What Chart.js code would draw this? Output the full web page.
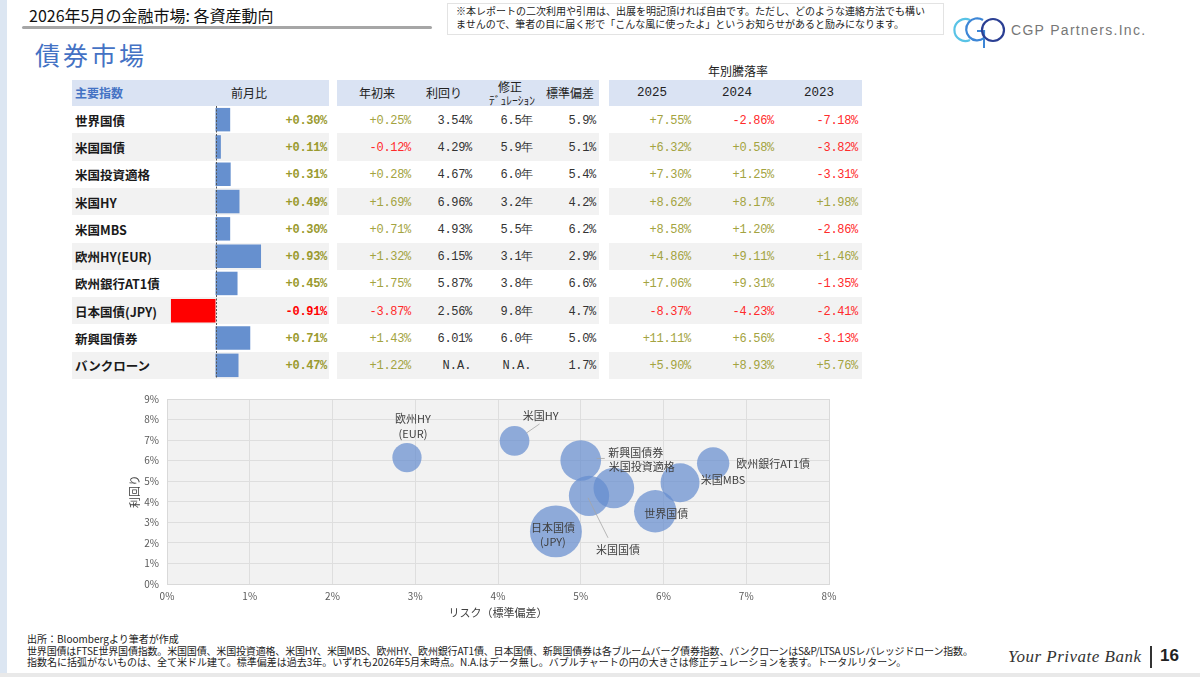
<!DOCTYPE html>
<html lang="ja">
<head>
<meta charset="utf-8">
<script src="https://cdn.jsdelivr.net/npm/chart.js@4.4.1/dist/chart.umd.min.js"></script>
<style>
html,body{margin:0;padding:0;background:#fff;}
body{width:1200px;height:677px;position:relative;overflow:hidden;font-family:'Noto Sans CJK JP','Noto Sans',sans-serif;color:#222;}
.abs{position:absolute;white-space:nowrap;}
.band{position:absolute;}
canvas{position:absolute;}
</style>
</head>
<body>
<script>
// ---------------- DATA ----------------
const names   = ['世界国債','米国国債','米国投資適格','米国HY','米国MBS','欧州HY(EUR)','欧州銀行AT1債','日本国債(JPY)','新興国債券','バンクローン'];
const bubbleLabels = ['世界国債','米国国債','米国投資適格','米国HY','米国MBS','欧州HY\n(EUR)','欧州銀行AT1債','日本国債\n(JPY)','新興国債券','バンクローン'];
const momChange = [0.30, 0.11, 0.31, 0.49, 0.30, 0.93, 0.45, -0.91, 0.71, 0.47];   // 前月比
const ytdReturn = [0.25, -0.12, 0.28, 1.69, 0.71, 1.32, 1.75, -3.87, 1.43, 1.22];  // 年初来
const yields    = [3.54, 4.29, 4.67, 6.96, 4.93, 6.15, 5.87, 2.56, 6.01, null];    // 利回り
const durations = [6.5, 5.9, 6.0, 3.2, 5.5, 3.1, 3.8, 9.8, 6.0, null];             // 修正デュレーション
const stdDevs   = [5.9, 5.1, 5.4, 4.2, 6.2, 2.9, 6.6, 4.7, 5.0, 1.7];              // 標準偏差
const ret2025   = [7.55, 6.32, 7.30, 8.62, 8.58, 4.86, 17.06, -8.37, 11.11, 5.90];
const ret2024   = [-2.86, 0.58, 1.25, 8.17, 1.20, 9.11, 9.31, -4.23, 6.56, 8.93];
const ret2023   = [-7.18, -3.82, -3.31, 1.98, -2.86, 1.46, -1.35, -2.41, -3.13, 5.76];
const xTicksPct = [0,1,2,3,4,5,6,7,8];
const yTicksPct = [0,1,2,3,4,5,6,7,8,9];

// ---------------- helpers ----------------
function txt(s, o){
  const d=document.createElement('div'); d.className='abs'; d.textContent=s;
  const lh=o.lh||16;
  d.style.top=(o.y-lh/2)+'px'; d.style.height=lh+'px';
  if(o.font) d.style.font=o.font;
  d.style.lineHeight=lh+'px';
  if(o.align==='right'){ d.style.right=(1200-o.x)+'px'; }
  else if(o.align==='center'){ d.style.left=(o.x-200)+'px'; d.style.width='400px'; d.style.textAlign='center'; }
  else d.style.left=o.x+'px';
  if(o.color) d.style.color=o.color;
  if(o.ls) d.style.letterSpacing=o.ls;
  document.body.appendChild(d); return d;
}
function rect(x,y,w,h,bg,extra){
  const d=document.createElement('div'); d.className='band';
  Object.assign(d.style,{left:x+'px',top:y+'px',width:w+'px',height:h+'px',background:bg},extra||{});
  document.body.appendChild(d); return d;
}
const CJK="'Noto Sans CJK JP','Noto Sans',sans-serif";
const MONO="'Liberation Mono','DejaVu Sans Mono',monospace";
const POS='#9a9a2e', POS2='#a3a340', NEG='#ff0000', NEG2='#ff2b2b';
const fmtSigned = v => (v>=0?'+':'-')+Math.abs(v).toFixed(2)+'%';

// ---------------- page chrome ----------------
rect(0,0,7,673,'#dce6f2');
rect(0,673,1200,4,'#e9e9e9');
txt('2026年5月の金融市場: 各資産動向',{x:29,y:15,lh:20,font:"16px "+CJK,color:'#111'});
rect(22,26,410,3,'#a6a6a6',{borderRadius:'2px'});
rect(447,3,497,32,'#fff',{border:'1px solid #e3e3e3',boxSizing:'border-box'});
txt('※本レポートの二次利用や引用は、出展を明記頂ければ自由です。ただし、どのような連絡方法でも構い',{x:456,y:11,lh:12,font:"10px "+CJK,color:'#222'});
txt('ませんので、筆者の目に届く形で「こんな風に使ったよ」というお知らせがあると励みになります。',{x:456,y:24,lh:12,font:"10px "+CJK,color:'#222'});
// logo
document.body.insertAdjacentHTML('beforeend',
 '<svg style="position:absolute;left:950px;top:12px" width="60" height="38" viewBox="0 0 60 38">'+
 '<path d="M20 8 A11 11 0 1 0 20 28" fill="none" stroke="#59c3e6" stroke-width="2.2"/>'+
 '<path d="M33 8 A11 11 0 1 0 34 26 L34 19 L27 19" fill="none" stroke="#3d86d6" stroke-width="2.2"/>'+
 '<circle cx="43" cy="18" r="11" fill="none" stroke="#2b3f93" stroke-width="2.2"/>'+
 '<line x1="34" y1="26" x2="34" y2="36" stroke="#3d86d6" stroke-width="2"/>'+
 '</svg>');
txt('CGP Partners.Inc.',{x:1011,y:30,lh:18,font:"14px 'Liberation Sans',sans-serif",color:'#777',ls:'1.3px'});
txt('債券市場',{x:35,y:54,lh:30,font:"25px "+CJK,color:'#4472c4',ls:'3px'});

// ---------------- table ----------------
const ROW_TOP=106, ROW_H=27.3, HEAD_TOP=80, HEAD_H=26;
const sections=[[72,257],[337,262],[609,253]];
sections.forEach(s=>rect(s[0],HEAD_TOP,s[1],HEAD_H,'#dae3f3'));
for(let i=0;i<names.length;i++){
  if(i%2===1) sections.forEach(s=>rect(s[0],ROW_TOP+i*ROW_H,s[1],ROW_H,'#f2f2f2'));
}
const hy=HEAD_TOP+HEAD_H/2;
txt('年別騰落率',{x:738,y:71,lh:16,font:"12px "+CJK,align:'center',color:'#222'});
txt('主要指数',{x:75,y:hy,lh:16,font:"bold 12px "+CJK,color:'#4472c4'});
txt('前月比',{x:249,y:hy,lh:16,font:"12px "+CJK,align:'center'});
txt('年初来',{x:377,y:hy,lh:16,font:"12px "+CJK,align:'center'});
txt('利回り',{x:444,y:hy,lh:16,font:"12px "+CJK,align:'center'});
txt('修正',{x:510,y:hy-6,lh:14,font:"12px "+CJK,align:'center'});
txt('ﾃﾞｭﾚｰｼｮﾝ',{x:512,y:hy+7,lh:12,font:"11.5px "+CJK,align:'center'});
txt('標準偏差',{x:570,y:hy,lh:16,font:"12px "+CJK,align:'center'});
txt('2025',{x:652,y:hy,lh:16,font:"12.5px "+MONO,align:'center'});
txt('2024',{x:737,y:hy,lh:16,font:"12.5px "+MONO,align:'center'});
txt('2023',{x:819,y:hy,lh:16,font:"12.5px "+MONO,align:'center'});

const numFont = "12px "+MONO, numBold="bold 12px "+MONO;
for(let i=0;i<names.length;i++){
  const y=ROW_TOP+ROW_H*(i+0.5)+1;
  txt(names[i],{x:75,y,lh:16,font:"bold 12.5px "+CJK,color:'#1a1a1a'});
  txt(fmtSigned(momChange[i]),{x:327,y,lh:16,font:numBold,color:momChange[i]<0?NEG:POS,align:'right',ls:'-0.3px'});
  txt(fmtSigned(ytdReturn[i]),{x:411,y,lh:16,font:numFont,color:ytdReturn[i]<0?NEG2:POS2,align:'right',ls:'-0.3px'});
  if(yields[i]==null) txt('N.A.',{x:457,y,lh:16,font:numFont,color:'#333',align:'center'});
  else txt(yields[i].toFixed(2)+'%',{x:472,y,lh:16,font:numFont,color:'#333',align:'right',ls:'-0.3px'});
  if(durations[i]==null) txt('N.A.',{x:517,y,lh:16,font:numFont,color:'#333',align:'center'});
  else txt(durations[i].toFixed(1)+'年',{x:533,y,lh:16,font:numFont,color:'#333',align:'right',ls:'-0.3px'});
  txt(stdDevs[i].toFixed(1)+'%',{x:596,y,lh:16,font:numFont,color:'#333',align:'right',ls:'-0.3px'});
  [[ret2025,691],[ret2024,774],[ret2023,858]].forEach(([arr,x])=>{
    txt(fmtSigned(arr[i]),{x,y,lh:16,font:numFont,color:arr[i]<0?NEG2:POS2,align:'right',ls:'-0.3px'});
  });
}

// bar canvas (前月比)
const barCanvas=document.createElement('canvas');
barCanvas.width=141; barCanvas.height=273;
Object.assign(barCanvas.style,{left:'145px',top:ROW_TOP+'px',width:'141px',height:'273px'});
document.body.appendChild(barCanvas);

// bubble canvas
const bubCanvas=document.createElement('canvas');
bubCanvas.width=725; bubCanvas.height=240;
Object.assign(bubCanvas.style,{left:'122px',top:'385px',width:'725px',height:'240px'});
document.body.appendChild(bubCanvas);

// ---------------- footer ----------------
txt('出所：Bloombergより筆者が作成',{x:27,y:639,lh:12,font:"10px "+CJK,color:'#222'});
txt('世界国債はFTSE世界国債指数。米国国債、米国投資適格、米国HY、米国MBS、欧州HY、欧州銀行AT1債、日本国債、新興国債券は各ブルームバーグ債券指数、バンクローンはS&P/LTSA USレバレッジドローン指数。',{x:27,y:651,lh:12,font:"10px "+CJK,color:'#222',ls:'-0.17px'});
txt('指数名に括弧がないものは、全て米ドル建て。標準偏差は過去3年。いずれも2026年5月末時点。N.A.はデータ無し。バブルチャートの円の大きさは修正デュレーションを表す。トータルリターン。',{x:27,y:662,lh:12,font:"10px "+CJK,color:'#222'});
txt('Your Private Bank',{x:1008,y:657,lh:20,font:"italic 17px 'Liberation Serif',serif",color:'#333',ls:'0.5px'});
rect(1150,646,2,22,'#333');
txt('16',{x:1160,y:656,lh:20,font:"bold 17px 'Liberation Sans',sans-serif",color:'#222'});

// ---------------- Chart.js ----------------
Chart.defaults.font.family = CJK;
Chart.defaults.animation = false;

const zeroLinePlugin = {
  id:'zeroLine',
  afterDatasetsDraw(chart){
    const {ctx, chartArea, scales:{x}} = chart;
    const px = Math.round(x.getPixelForValue(0))+0.5;
    ctx.save(); ctx.strokeStyle='#555'; ctx.lineWidth=1; ctx.setLineDash([2,1.5]);
    ctx.beginPath(); ctx.moveTo(px,chartArea.top); ctx.lineTo(px,chartArea.bottom); ctx.stroke(); ctx.restore();
  }
};
new Chart(barCanvas,{
  type:'bar',
  data:{labels:names,datasets:[{data:momChange,
    backgroundColor:momChange.map(v=>v<0?'#ff0000':'#6690cf'),
    barPercentage:0.86,categoryPercentage:1,borderWidth:0}]},
  options:{indexAxis:'y',responsive:false,animation:false,
    layout:{padding:0,autoPadding:false},
    plugins:{legend:{display:false},tooltip:{enabled:false}},
    scales:{
      x:{min:-1.44,max:1.44,display:true,ticks:{display:false},grid:{display:false,drawTicks:false},border:{display:false},afterFit:s=>{s.height=0;}},
      y:{display:false}
    }},
  plugins:[zeroLinePlugin]
});

const labelStyle = [
  {dx:11, dy:3},
  {dx:29, dy:54, lead:[-1,2,19,42]},
  {dx:28, dy:-21},
  {dx:26, dy:-25, lead:[12,-8,25,-17]},
  {dx:43, dy:-3},
  {dx:6, dy:-31, lh:15},
  {dx:60, dy:0},
  {dx:-3, dy:3, lh:14},
  {dx:55, dy:-8, lead:[16,-2,24,-2]},
];
const bubbleIdx = names.map((n,i)=>i).filter(i=>yields[i]!=null && durations[i]!=null);

const plotBgPlugin = {
  id:'plotBg',
  beforeDraw(chart){
    const {ctx,chartArea:a}=chart;
    ctx.save(); ctx.fillStyle='#f2f2f2'; ctx.fillRect(a.left,a.top,a.right-a.left,a.bottom-a.top); ctx.restore();
  },
  afterDraw(chart){
    const {ctx,chartArea:a}=chart;
    ctx.save(); ctx.strokeStyle='#d9d9d9'; ctx.lineWidth=1;
    ctx.strokeRect(Math.round(a.left)+0.5,Math.round(a.top)+0.5,Math.round(a.right-a.left),Math.round(a.bottom-a.top)); ctx.restore();
  }
};
const bubbleLabelPlugin = {
  id:'bubbleLabels',
  afterDatasetsDraw(chart){
    const {ctx}=chart; const meta=chart.getDatasetMeta(0);
    ctx.save();
    ctx.font="11px "+CJK; ctx.fillStyle='#404040'; ctx.textAlign='center'; ctx.textBaseline='middle';
    meta.data.forEach((el,k)=>{
      const i=bubbleIdx[k]; const st=labelStyle[i]||{dx:0,dy:0};
      if(st.lead){
        ctx.strokeStyle='#a6a6a6'; ctx.lineWidth=0.8;
        ctx.beginPath(); ctx.moveTo(el.x+st.lead[0],el.y+st.lead[1]); ctx.lineTo(el.x+st.lead[2],el.y+st.lead[3]); ctx.stroke();
      }
      const lines=bubbleLabels[i].split('\n'); const lh=st.lh||14;
      lines.forEach((ln,j)=>{
        ctx.fillText(ln, el.x+st.dx, el.y+st.dy+(j-(lines.length-1)/2)*lh);
      });
    });
    ctx.restore();
  }
};

new Chart(bubCanvas,{
  type:'bubble',
  data:{datasets:[{
    data:bubbleIdx.map(i=>({x:stdDevs[i],y:yields[i]})),
    backgroundColor:'rgba(100,140,206,0.70)',
    borderWidth:0, hoverBorderWidth:0, clip:false,
    radius:ctx=>8.3*Math.sqrt(durations[bubbleIdx[ctx.dataIndex]])
  }]},
  options:{responsive:false,animation:false,
    layout:{padding:{left:0,right:18,top:12,bottom:0},autoPadding:false},
    plugins:{legend:{display:false},tooltip:{enabled:false}},
    scales:{
      x:{type:'linear',min:xTicksPct[0],max:xTicksPct[xTicksPct.length-1],
        afterBuildTicks:s=>{s.ticks=xTicksPct.map(v=>({value:v}));},
        ticks:{callback:v=>v+'%',color:'#595959',font:{size:10},padding:6,maxRotation:0},
        grid:{color:'#dedede',drawTicks:false},border:{color:'#d9d9d9'},
        title:{display:true,text:'リスク（標準偏差）',color:'#404040',font:{size:11},padding:{top:2,bottom:6}},
        afterFit:s=>{s.height=41;}},
      y:{type:'linear',min:yTicksPct[0],max:yTicksPct[yTicksPct.length-1],
        afterBuildTicks:s=>{s.ticks=yTicksPct.map(v=>({value:v}));},
        ticks:{callback:v=>v+'%',color:'#595959',font:{size:10},padding:8},
        grid:{color:'#dedede',drawTicks:false},border:{color:'#d9d9d9'},
        title:{display:true,text:'利回り',color:'#404040',font:{size:11},padding:{top:6,bottom:2}},
        afterFit:s=>{s.width=45;}}
    }},
  plugins:[plotBgPlugin,bubbleLabelPlugin]
});
</script>
</body>
</html>
